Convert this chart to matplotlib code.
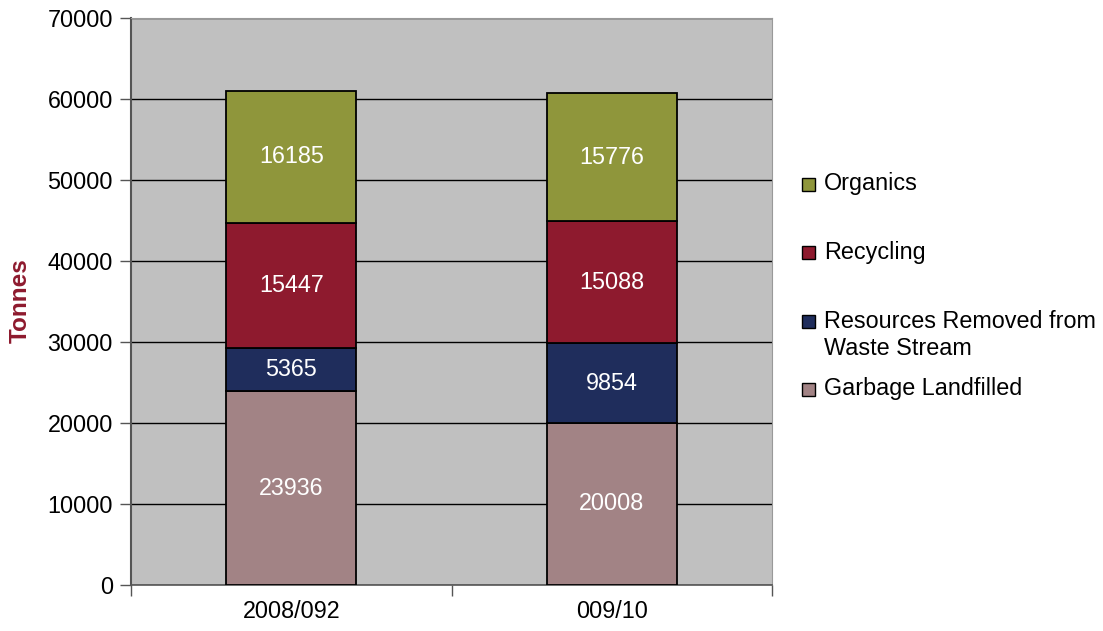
import numpy as np
import matplotlib
matplotlib.use("Agg")
import matplotlib.pyplot as plt
from matplotlib.patches import Rectangle

plt.rcParams["font.family"] = ["Liberation Sans", "DejaVu Sans"]

CATEGORIES = ["2008/092", "009/10"]
SERIES = ["Garbage Landfilled", "Resources Removed from\nWaste Stream", "Recycling", "Organics"]
VALUES = {
    "Garbage Landfilled": [23936, 20008],
    "Resources Removed from\nWaste Stream": [5365, 9854],
    "Recycling": [15447, 15088],
    "Organics": [16185, 15776],
}
COLORS = ["#A28385", "#1F2D5C", "#8E1A2E", "#8F963B"]
LEGEND_Y = [389, 335, 252, 184]  # pixel centres of legend entries

W, H = 1103, 631
fig = plt.figure(figsize=(W / 100, H / 100), dpi=100)
ax = fig.add_axes([131 / W, 1 - 585 / H, (772 - 131) / W, (585 - 18) / H])
ax.set_facecolor("#C0C0C0")

x = np.arange(len(CATEGORIES))
bottom = np.zeros(len(CATEGORIES))
for name, color in zip(SERIES, COLORS):
    vals = np.array(VALUES[name])
    ax.bar(x, vals, 0.405, bottom=bottom, color=color, edgecolor="black",
           linewidth=1.3, zorder=3)
    for xi, b, v in zip(x, bottom, vals):
        ax.text(xi, b + v / 2, str(v), ha="center", va="center", color="white",
                fontsize=16.8, zorder=4)
    bottom += vals

ax.set_xlim(-0.5, 1.5)
ax.set_ylim(0, 70000)
ax.set_yticks(np.arange(0, 70001, 10000))
ax.yaxis.grid(True, color="black", linewidth=1.0, zorder=1)
ax.set_axisbelow(True)
ax.tick_params(axis="y", labelsize=16.8, length=8, width=1, color="#555555", pad=5)

ax.set_xticks(x)
ax.set_xticklabels(CATEGORIES, fontsize=16.8)
ax.tick_params(axis="x", length=0, pad=11)
ax.set_xticks([-0.5, 0.5, 1.5], minor=True)
ax.tick_params(axis="x", which="minor", length=8, width=1, color="#555555")

ax.spines["left"].set_color("#555555")
ax.spines["left"].set_linewidth(1.5)
ax.spines["bottom"].set_color("#555555")
ax.spines["bottom"].set_linewidth(1.2)
ax.spines["top"].set_color("#999999")
ax.spines["right"].set_color("#999999")

fig.text(20 / W, 1 - 301 / H, "Tonnes", rotation=90, ha="center", va="center",
         fontsize=17.5, fontweight="bold", color="#8E1A2E")

# legend drawn by hand to keep the spacing of the original
for name, color, ly in zip(SERIES, COLORS, LEGEND_Y):
    yf = 1 - ly / H
    ty = yf
    if "\n" in name:
        ty = 1 - 335 / H
        sq = 1 - 321 / H
    else:
        sq = yf
    fig.patches.append(Rectangle((802 / W, sq - 6.5 / H), 13 / W, 13 / H,
                                 transform=fig.transFigure, facecolor=color,
                                 edgecolor="black", linewidth=1))
    fig.text(824 / W, ty, name, ha="left", va="center", fontsize=16.8,
             linespacing=1.2)

fig.savefig("out.png", dpi=100)
